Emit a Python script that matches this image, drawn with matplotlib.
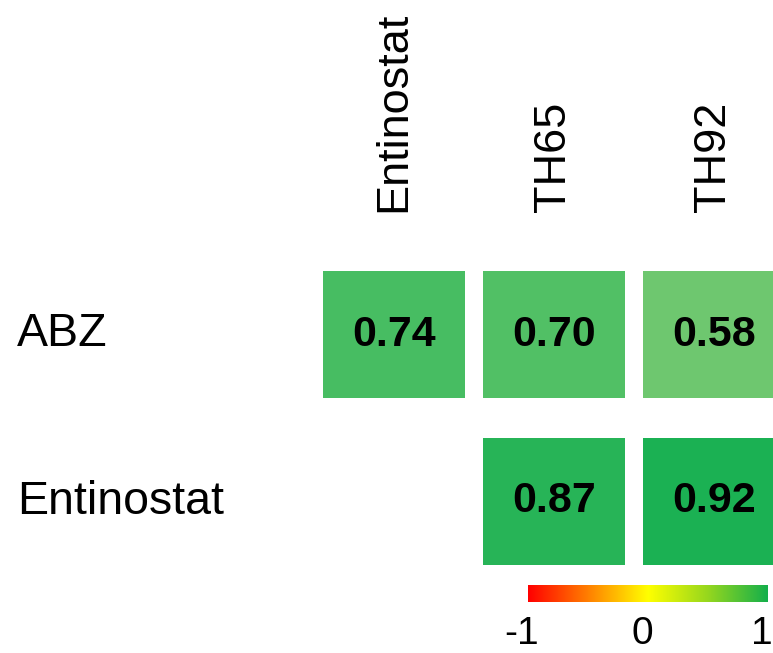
import numpy as np
import matplotlib
matplotlib.use("Agg")
import matplotlib.pyplot as plt
from matplotlib.colors import LinearSegmentedColormap
from matplotlib.patches import Rectangle
from matplotlib.transforms import blended_transform_factory, ScaledTranslation

plt.rcParams["font.family"] = ["Liberation Sans", "DejaVu Sans"]

row_labels = ["ABZ", "Entinostat"]
col_labels = ["Entinostat", "TH65", "TH92"]
abz_vals = [0.74, 0.70, 0.58]
entinostat_vals = [np.nan, 0.87, 0.92]
cbar_ticks = [-1, 0, 1]

corr = np.array([abz_vals, entinostat_vals])

# colours for the cells and for the bar
cell_cmap = LinearSegmentedColormap.from_list(
    "cells", [(0.0, "#f03c28"), (0.5, "#fdeea0"), (1.0, "#08ac4c")])
bar_cmap = LinearSegmentedColormap.from_list(
    "bar", [(0.0, "#ff0000"), (0.5, "#ffff00"), (0.75, "#96d71e"), (1.0, "#14af4b")])

W, H = 773, 653
fig = plt.figure(figsize=(W / 100, H / 100), dpi=100)

# main grid, extends past the right edge like the original
ax = fig.add_axes([314 / W, (H - 585) / H, 480 / W, 334 / H])
ax.set_xlim(0, corr.shape[1])
ax.set_ylim(corr.shape[0], 0)
for s in ax.spines.values():
    s.set_visible(False)

padx, pady = 0.055, 0.117
for i in range(corr.shape[0]):
    for j in range(corr.shape[1]):
        v = corr[i, j]
        if np.isnan(v):
            continue
        ax.add_patch(Rectangle((j + padx, i + pady), 1 - 2 * padx, 1 - 2 * pady,
                               facecolor=cell_cmap((v + 1) / 2), edgecolor="none"))
        ax.text(j + 0.5, i + 0.5, f"{v:.2f}", ha="center", va="center",
                fontsize=31, fontweight="bold", color="black")

ax.xaxis.tick_top()
ax.set_xticks(np.arange(len(col_labels)) + 0.5)
ax.set_xticklabels(col_labels, rotation=90, fontsize=32.5)
ax.tick_params(axis="x", length=0, pad=28)
ax.set_yticks([])

trans = blended_transform_factory(fig.transFigure, ax.transData)
for i, lab in enumerate(row_labels):
    ax.text(17 / W, i + 0.5, lab, transform=trans, ha="left", va="center",
            fontsize=33.5)

# colour bar
cax = fig.add_axes([528 / W, (H - 602) / H, 240 / W, 17 / H])
grad = np.linspace(-1, 1, 256).reshape(1, -1)
cax.imshow(grad, cmap=bar_cmap, aspect="auto", extent=[-1, 1, 0, 1])
cax.set_xticks(cbar_ticks)
cax.set_xticklabels([str(t) for t in cbar_ticks], fontsize=28)
cax.tick_params(axis="x", length=0, pad=10)
shift = ScaledTranslation(-6 / 100, 0, fig.dpi_scale_trans)
for lab in cax.get_xticklabels():
    lab.set_transform(lab.get_transform() + shift)
cax.set_yticks([])
for s in cax.spines.values():
    s.set_visible(False)

fig.savefig("out.png", dpi=100)
